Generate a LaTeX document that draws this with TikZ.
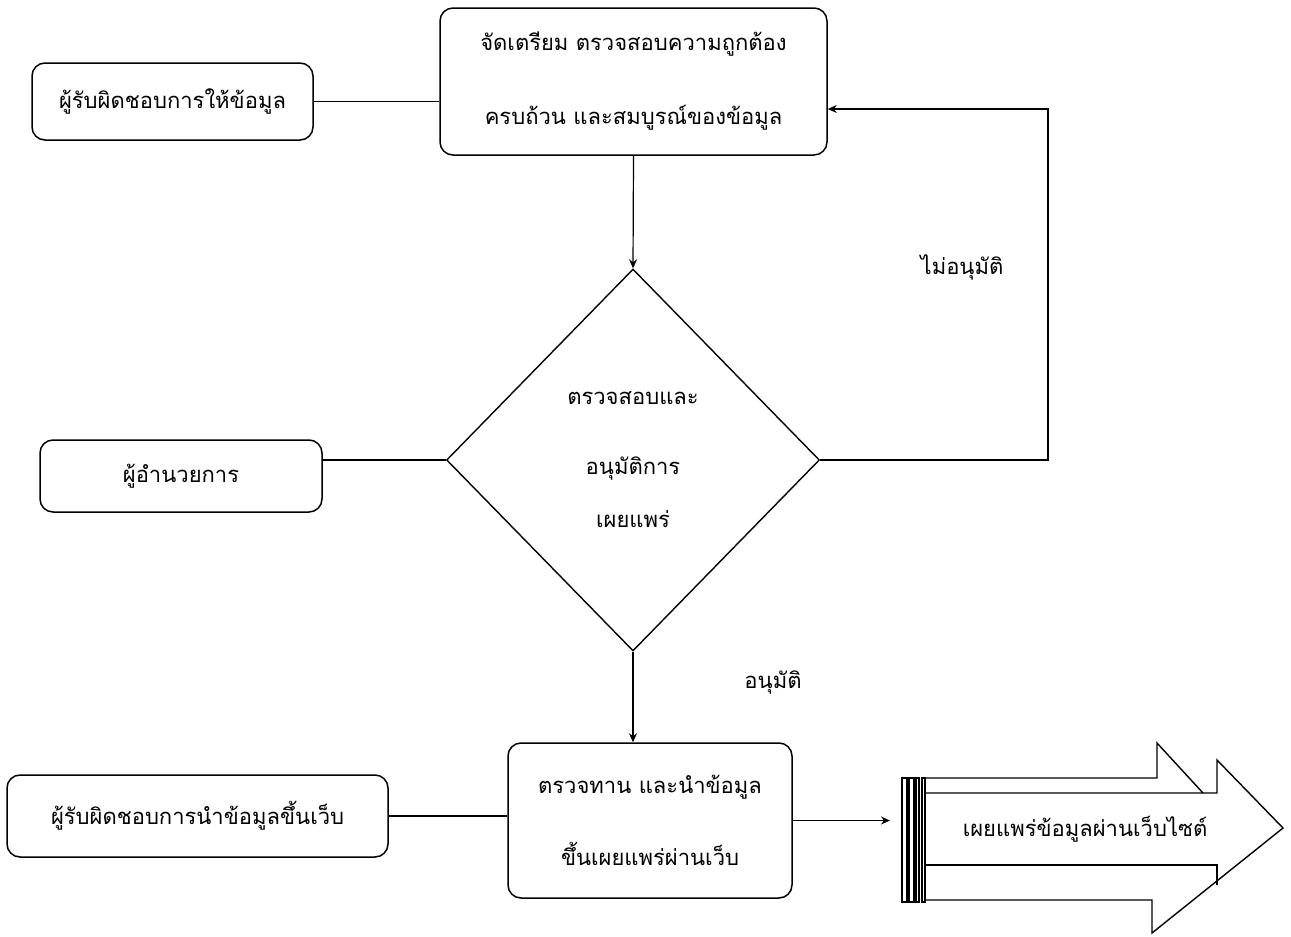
\documentclass[tikz,border=0pt]{standalone}
\usepackage{fontspec}
\newfontfamily\thai[Script=Thai]{Loma}
\usetikzlibrary{arrows.meta,shapes.geometric}
\begin{document}
\begin{tikzpicture}[x=1pt,y=-1pt,
  txt/.style={font=\thai\fontsize{22}{26}\selectfont},
  box/.style={txt, draw, line width=1.5pt, rounded corners=13pt, align=center, inner sep=0pt},
  conn/.style={line width=1.2pt},
  arr/.style={conn, -{Stealth[length=9pt,width=8pt]}},
  shp/.style={line width=1.4pt}]
\useasboundingbox (0,0) rectangle (1291,937);

% main flow
\node[box, minimum width=387pt, minimum height=147pt] (T) at (633.5,81.5)
  {จัดเตรียม ตรวจสอบความถูกต้อง\\[48pt]ครบถ้วน และสมบูรณ์ของข้อมูล};
\node[txt, draw, shp, shape=diamond, minimum width=373pt, minimum height=382pt, inner sep=0pt, align=center] (E) at (633,460)
  {ตรวจสอบและ\\[44pt]อนุมัติการ\\[27pt]เผยแพร่};
\node[box, minimum width=284pt, minimum height=155pt] (D) at (650,820.5)
  {ตรวจทาน และนำข้อมูล\\[42pt]ขึ้นเผยแพร่ผ่านเว็บ};

% responsible persons
\node[box, minimum width=281pt, minimum height=77pt] (A) at (172.5,101.5) {ผู้รับผิดชอบการให้ข้อมูล};
\node[box, minimum width=282pt, minimum height=72pt] (B) at (181,476) {ผู้อำนวยการ};
\node[box, minimum width=381pt, minimum height=82pt] (C) at (197.5,816) {ผู้รับผิดชอบการนำข้อมูลขึ้นเว็บ};

% labels
\node[txt] (no) at (962,267) {ไม่อนุมัติ};
\node[txt] (yes) at (773,683) {อนุมัติ};

% connectors
\draw[conn] (A.east) -- (A.east -| T.west);
\draw[conn] (B.east |- E.west) -- (E.west);
\draw[conn] (C.east) -- (C.east -| D.west);
\draw[arr] (T.south) -- (E.north);
\draw[arr] (E.south) -- (E.south |- D.north);
\coordinate (loop) at (1048,109);
\draw[arr] (E.east) -| (loop) -- (T.east |- loop);
\coordinate (web) at (890,822);
\draw[arr] (D.east) -- (D.east -| web);

% big arrow
\foreach \a/\b in {902/907,909/914,916/919,922/925}
  \draw[shp, line width=1.1pt] (\a,778) rectangle (\b,902);
\draw[shp] (925,778) -- (1157,778) -- (1157,743) -- (1203,793);
\draw[shp] (925,793) -- (1217,793) -- (1217,760) -- (1283,828) -- (1152,933) -- (1152,900) -- (925,900);
\draw[shp] (925,865) -- (1217,865) -- (1217,885);
\node[txt] (pub) at (1085,829) {เผยแพร่ข้อมูลผ่านเว็บไซต์};
\end{tikzpicture}
\end{document}
